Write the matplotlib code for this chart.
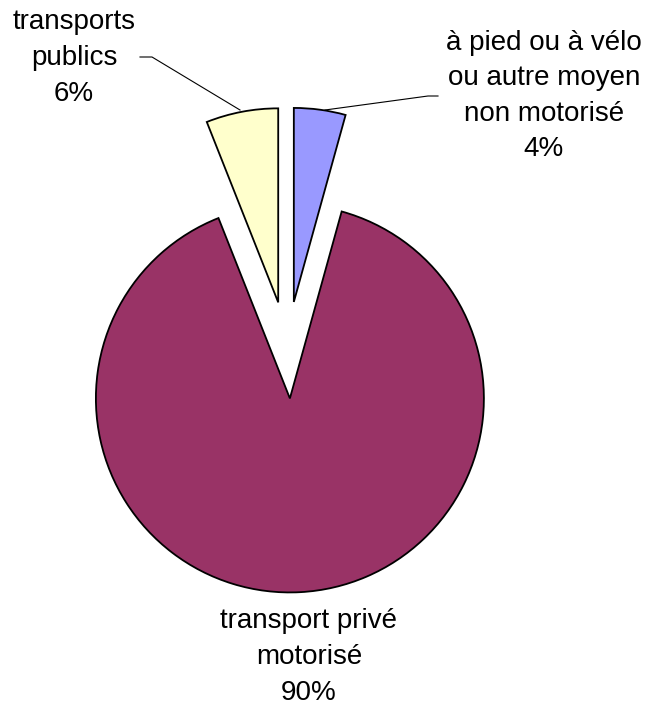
import matplotlib.pyplot as plt
import numpy as np

plt.rcParams['font.family'] = ['Liberation Sans', 'DejaVu Sans']

# shares (labels are rounded)
categories = ['à pied ou à vélo\nou autre moyen\nnon motorisé',
              'transport privé\nmotorisé',
              'transports\npublics']
shares = [4.3, 89.7, 6.0]
colors = ['#9999FF', '#993366', '#FFFFCC']

W, H = 645, 706
R_PX = 194.0              # pie radius in pixels
CX, CY = 287.3, 350.0     # pie centre in pixels (from top-left)


def px(x, y):
    # pixel position (from top-left) -> data coords
    return (x - CX) / R_PX, (CY - y) / R_PX


fig = plt.figure(figsize=(W / 100, H / 100), dpi=100)
ax = fig.add_axes([0, 0, 1, 1])

ax.pie(shares, colors=colors, startangle=90, counterclock=False,
       explode=[0.25, 0.25, 0.25], radius=1.0,
       wedgeprops=dict(edgecolor='black', linewidth=1.3))

x0, y0 = px(0, H)
x1, y1 = px(W, 0)
ax.set_xlim(x0, x1)
ax.set_ylim(y0, y1)
ax.set_aspect('equal')
ax.axis('off')

total = sum(shares)
pct = [f'{v / total * 100:.0f}%' for v in shares]

# label centres, same order as categories
label_pos = [(544, 96), (309, 657), (74, 58)]
for name, p, (lx, ly) in zip(categories, pct, label_pos):
    tx, ty = px(lx, ly)
    ax.text(tx, ty, f'{name}\n{p}', ha='center', va='center',
            fontsize=20, linespacing=1.48, color='black')

# leader lines
leaders = [[(438, 96), (428, 96), (325, 110)],
           [(140, 57), (152, 57), (240, 110)]]
for pts in leaders:
    xy = np.array([px(x, y) for x, y in pts])
    ax.plot(xy[:, 0], xy[:, 1], color='black', linewidth=0.8)

fig.savefig('out.png', dpi=100)
